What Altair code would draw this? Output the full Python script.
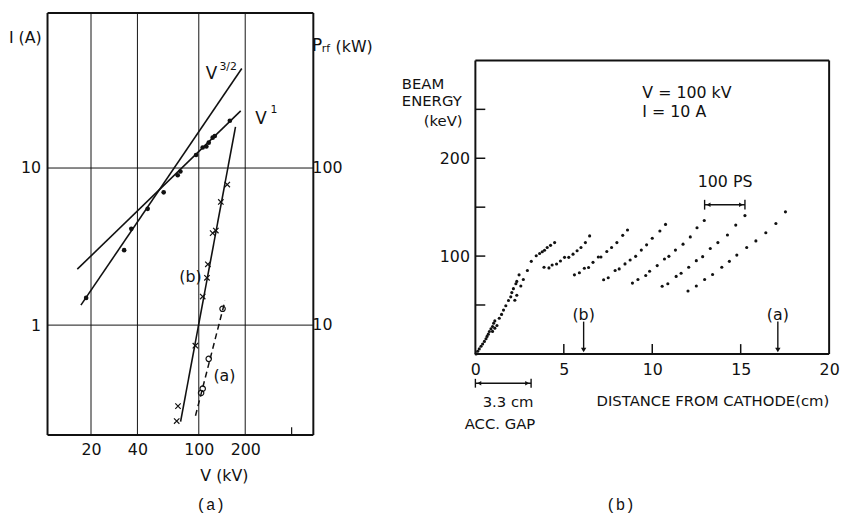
import altair as alt
import pandas as pd

FONT = "DejaVu Sans"
MONO = "Liberation Mono"
INK = "#111111"

# ===================== panel (a): I (A) and P_rf (kW) versus V (kV) =====================
V_DOMAIN = [10.45, 553]
I_DOMAIN = [0.2, 97]
V_TICKS = [20, 40, 100, 200]
V_MINOR_TICKS = [400]
I_TICKS = [1, 10]
P_TICK_LABELS = ["10", "100"]          # right-hand P_rf scale, at I = 1 and I = 10

V_DOT = [18.6, 32.8, 36.5, 46.6, 59.2, 73, 76, 96, 106, 112, 116, 123, 127, 159]
I_DOT = [1.49, 3.0, 4.1, 5.5, 7.0, 9.0, 9.5, 12.1, 13.5, 13.7, 14.5, 15.6, 16.0, 20.0]
V_CROSS = [71.9, 73.3, 95, 106, 113, 114.5, 123, 129, 139, 153]
I_CROSS = [0.245, 0.305, 0.74, 1.52, 2.0, 2.44, 3.85, 4.0, 6.08, 7.85]
V_CIRC = [103.5, 106, 116, 142.6]
I_CIRC = [0.37, 0.394, 0.61, 1.27]

FIT_NAME = ["V32", "V1", "b", "a"]
FIT_V = [[17.2, 190], [16.3, 187], [76.2, 173], [95.2, 148]]
FIT_I = [[1.34, 43], [2.27, 23.1], [0.243, 18.3], [0.265, 1.43]]
FIT_DASHED = [False, False, False, True]

# ===================== panel (b): beam energy versus distance =====================
X_DOMAIN = [0, 20]
E_DOMAIN = [0, 348.5]
E_FRAME_TOP = 300
X_LABELS = [0, 5, 10, 15, 20]
E_LABELS = [100, 200]
X_INNER_TICKS = [5, 10, 15]
E_INNER_TICKS = [50, 100, 150, 200, 250]

STRAND_X = [
    [0.04, 0.13, 0.22, 0.32, 0.41, 0.51, 0.60, 0.66, 0.73, 0.79, 0.88, 0.97, 1.03, 1.10,
     0.97, 1.10, 1.22, 1.35, 1.48, 1.59, 1.72, 1.87, 2.00, 2.06, 2.15, 2.29, 2.34, 2.47,
     2.23, 2.34, 2.57, 2.71, 2.94, 3.16, 3.44, 3.63, 3.78, 3.91, 4.06, 4.25, 4.48],
    [3.88, 4.16, 4.34, 4.59, 4.81, 5.04, 5.28, 5.52, 5.75, 5.97, 6.22, 6.46],
    [5.60, 5.88, 6.16, 6.40, 6.65, 6.95, 7.10, 7.43, 7.70, 8.00, 8.33, 8.60],
    [7.25, 7.51, 7.90, 8.13, 8.46, 8.75, 9.06, 9.38, 9.68, 10.0, 10.43, 10.75],
    [8.88, 9.19, 9.63, 9.85, 10.28, 10.69, 10.94, 11.31, 11.74, 12.15, 12.53, 12.94],
    [10.56, 10.88, 11.35, 11.63, 12.06, 12.49, 12.85, 13.28, 13.71, 14.25, 14.72, 15.24],
    [12.02, 12.49, 12.96, 13.41, 13.93, 14.36, 14.78, 15.34, 15.86, 16.42, 16.99, 17.53],
]
STRAND_E = [
    [0, 2.7, 5.1, 7.8, 10.1, 12.8, 15.5, 17.9, 20.2, 22.9, 25.6, 28, 31.3, 33.7,
     23, 26.3, 29, 36.4, 40.4, 44.8, 49.2, 54.6, 58.3, 62.7, 66.7, 71.7, 74.1, 80.8,
     54.9, 60, 69.4, 76.1, 85.2, 94.6, 100.4, 102.7, 104.4, 106, 108.8, 111, 113.8],
    [88.6, 87.9, 90.9, 91.9, 95, 98.7, 98.7, 102, 105.5, 108.8, 113.8, 120.6],
    [80.8, 83, 87.6, 88.3, 93.6, 99, 99, 104.7, 108.8, 113.8, 121.2, 126.6],
    [75.8, 77.8, 85.2, 86.9, 92, 96, 99.7, 106.1, 111.5, 118.2, 125.6, 132.4],
    [72.4, 76.1, 80.2, 84.5, 90.3, 97, 99.7, 106.1, 112.2, 119.6, 129, 136.4],
    [69.1, 71.7, 79.2, 82.5, 88.6, 95.3, 99.4, 107.8, 113.8, 121.6, 131.7, 141.4],
    [64.3, 69.4, 76.1, 81.2, 88.6, 94.6, 101, 108.8, 115.5, 123.9, 133.3, 145.2],
]
ARROW_X = [6.12, 17.1]
ARROW_LABEL = ["(b)", "(a)"]
PS_BAR = [12.96, 15.24]      # 100 ps time marker
GAP_BAR = [0, 3.15]          # 3.3 cm accelerating gap

# ---------------------------------------------------------------------------------------
axis_xa = alt.Axis(values=V_TICKS, format="d", labelFont=FONT, labelFontSize=16, labelColor=INK,
                   labelPadding=7, labelFlush=False, labelOverlap=False, ticks=False, domain=False,
                   grid=False, title=None)
axis_ya = alt.Axis(values=I_TICKS, format="d", labelFont=FONT, labelFontSize=16, labelColor=INK,
                   labelPadding=7, labelFlush=False, labelOverlap=False, ticks=False, domain=False,
                   grid=False, title=None)


def xA(f):
    return alt.X(f, type="quantitative", scale=alt.Scale(type="log", domain=V_DOMAIN), axis=axis_xa)


def yA(f):
    return alt.Y(f, type="quantitative", scale=alt.Scale(type="log", domain=I_DOMAIN), axis=axis_ya)


grid_v = alt.Chart(pd.DataFrame({"v": V_TICKS, "i": I_DOMAIN[0], "i2": I_DOMAIN[1]})).mark_rule(
    color=INK, strokeWidth=1).encode(x=xA("v"), y=yA("i"), y2="i2")
grid_h = alt.Chart(pd.DataFrame({"i": I_TICKS, "v": V_DOMAIN[0], "v2": V_DOMAIN[1]})).mark_rule(
    color=INK, strokeWidth=1).encode(y=yA("i"), x=xA("v"), x2="v2")
minor_v = alt.Chart(pd.DataFrame({"v": V_MINOR_TICKS, "i": I_DOMAIN[0],
                                  "i2": I_DOMAIN[0] * 1.12})).mark_rule(
    color=INK, strokeWidth=1.2).encode(x=xA("v"), y=yA("i"), y2="i2")
v0, v1 = V_DOMAIN
i0, i1 = I_DOMAIN
frame_a = alt.Chart(pd.DataFrame({
    "v": [v0, v0, v0, v1], "v2": [v1, v1, v0, v1],
    "i": [i0, i1, i0, i0], "i2": [i0, i1, i1, i1]})).mark_rule(color=INK, strokeWidth=2).encode(
    x=xA("v"), x2="v2", y=yA("i"), y2="i2")

fit_rows = []
for n, vs, is_, d in zip(FIT_NAME, FIT_V, FIT_I, FIT_DASHED):
    for k, (vv, ii) in enumerate(zip(vs, is_)):
        fit_rows.append({"name": n, "v": vv, "i": ii, "k": k, "dashed": d})
fit_df = pd.DataFrame(fit_rows)
fit_solid = alt.Chart(fit_df[~fit_df.dashed]).mark_line(color=INK, strokeWidth=1.6).encode(
    x=xA("v"), y=yA("i"), detail="name:N", order="k:Q")
fit_dash = alt.Chart(fit_df[fit_df.dashed]).mark_line(color=INK, strokeWidth=1.5,
                                                       strokeDash=[6, 4]).encode(
    x=xA("v"), y=yA("i"), detail="name:N", order="k:Q")

dots = alt.Chart(pd.DataFrame({"v": V_DOT, "i": I_DOT})).mark_circle(
    color=INK, size=22, opacity=1).encode(x=xA("v"), y=yA("i"))
crosses = alt.Chart(pd.DataFrame({"v": V_CROSS, "i": I_CROSS})).mark_point(
    shape="M -1 -1 L 1 1 M -1 1 L 1 -1", size=30, strokeWidth=1.2, color=INK, filled=False,
    opacity=1).encode(x=xA("v"), y=yA("i"))
circles = alt.Chart(pd.DataFrame({"v": V_CIRC, "i": I_CIRC})).mark_point(
    shape="circle", size=30, strokeWidth=1.2, color=INK, filled=False, opacity=1).encode(
    x=xA("v"), y=yA("i"))


def text_a(texts, vs, is_, size, align="center", font=FONT):
    return alt.Chart(pd.DataFrame({"t": texts, "v": vs, "i": is_})).mark_text(
        font=font, fontSize=size, color=INK, align=align, baseline="middle").encode(
        x=xA("v"), y=yA("i"), text="t:N")


txt_ititle = text_a(["I (A)"], [5.87], [67.6], 16, align="left")
txt_vtitle = text_a(["V (kV)"], [146.6], [0.109], 16)
txt_big = text_a(["V", "V"], [121, 253], [39.5, 20.6], 17)
txt_sup = text_a(["3/2", "1"], [155, 307], [44.2, 23.3], 11)
txt_curve = text_a(["(b)", "(a)"], [88.3, 146.6], [2.03, 0.471], 16)
txt_p = text_a(["P"], [542], [59.6], 17, align="left")
txt_rf = text_a(["rf"], [628], [56.9], 11, align="left")
txt_kw = text_a(["(kW)"], [771], [59.0], 16, align="left")
txt_right = text_a(P_TICK_LABELS, [545, 545], I_TICKS, 16, align="left")
txt_cap_a = text_a(["(a)"], [119.5], [0.0717], 16, font=MONO)

panel_a = alt.layer(grid_v, grid_h, minor_v, frame_a, fit_solid, fit_dash, dots, crosses, circles,
                    txt_ititle, txt_vtitle, txt_big, txt_sup, txt_curve, txt_p, txt_rf, txt_kw,
                    txt_right, txt_cap_a).properties(width=269, height=427)

# ---------------------------------------------------------------------------------------
axis_xb = alt.Axis(values=X_LABELS, format="d", labelFont=FONT, labelFontSize=16, labelColor=INK,
                   labelPadding=8, labelFlush=False, labelOverlap=False, ticks=False, domain=False,
                   grid=False, title=None)
axis_yb = alt.Axis(values=E_LABELS, format="d", labelFont=FONT, labelFontSize=16, labelColor=INK,
                   labelPadding=6, labelFlush=False, labelOverlap=False, ticks=False, domain=False,
                   grid=False, title=None)


def xB(f):
    return alt.X(f, type="quantitative", scale=alt.Scale(domain=X_DOMAIN, nice=False), axis=axis_xb)


def yB(f):
    return alt.Y(f, type="quantitative", scale=alt.Scale(domain=E_DOMAIN, nice=False), axis=axis_yb)


x0, x1 = X_DOMAIN
frame_b = alt.Chart(pd.DataFrame({
    "x": [x0, x0, x0, x1], "x2": [x1, x1, x0, x1],
    "e": [0, E_FRAME_TOP, 0, 0], "e2": [0, E_FRAME_TOP, E_FRAME_TOP, E_FRAME_TOP]})).mark_rule(
    color=INK, strokeWidth=2).encode(x=xB("x"), x2="x2", y=yB("e"), y2="e2")

tick_len_x = 0.56   # cm  (about 10 px)
tick_len_e = 10.0   # keV (about 10 px)
ticks_e = alt.Chart(pd.DataFrame({"e": E_INNER_TICKS, "x": 0, "x2": tick_len_x})).mark_rule(
    color=INK, strokeWidth=1.5).encode(x=xB("x"), x2="x2", y=yB("e"))
ticks_x = alt.Chart(pd.DataFrame({"x": X_INNER_TICKS, "e": 0, "e2": tick_len_e})).mark_rule(
    color=INK, strokeWidth=1.5).encode(x=xB("x"), y=yB("e"), y2="e2")

strand_rows = []
for s, (xs, es) in enumerate(zip(STRAND_X, STRAND_E)):
    for xx, ee in zip(xs, es):
        strand_rows.append({"s": s, "x": xx, "e": ee})
strands = alt.Chart(pd.DataFrame(strand_rows)).mark_circle(color=INK, size=10, opacity=1).encode(
    x=xB("x"), y=yB("e"))

arrow_shaft = alt.Chart(pd.DataFrame({"x": ARROW_X, "e": 4, "e2": 33})).mark_rule(
    color=INK, strokeWidth=1.4).encode(x=xB("x"), y=yB("e"), y2="e2")
arrow_head = alt.Chart(pd.DataFrame({"x": ARROW_X, "e": 4})).mark_point(
    shape="triangle-down", filled=True, size=30, color=INK, opacity=1).encode(x=xB("x"), y=yB("e"))

ps_e = 152.5
ps_bar = alt.Chart(pd.DataFrame({"x": [PS_BAR[0]], "x2": [PS_BAR[1]], "e": [ps_e]})).mark_rule(
    color=INK, strokeWidth=1.4).encode(x=xB("x"), x2="x2", y=yB("e"))
ps_caps = alt.Chart(pd.DataFrame({"x": PS_BAR, "e": ps_e - 5, "e2": ps_e + 5})).mark_rule(
    color=INK, strokeWidth=1.4).encode(x=xB("x"), y=yB("e"), y2="e2")
ps_heads = alt.Chart(pd.DataFrame({"x": [PS_BAR[0] + 0.22, PS_BAR[1] - 0.22], "e": ps_e,
                                   "d": ["L", "R"]})).mark_point(
    filled=True, size=22, color=INK, opacity=1).encode(
    x=xB("x"), y=yB("e"),
    shape=alt.Shape("d:N", scale=alt.Scale(domain=["L", "R"],
                                           range=["triangle-left", "triangle-right"]), legend=None))

gap_e = -30
gap_bar = alt.Chart(pd.DataFrame({"x": [GAP_BAR[0]], "x2": [GAP_BAR[1]], "e": [gap_e]})).mark_rule(
    color=INK, strokeWidth=1.4).encode(x=xB("x"), x2="x2", y=yB("e"))
gap_caps = alt.Chart(pd.DataFrame({"x": GAP_BAR, "e": gap_e - 4.5, "e2": gap_e + 4.5})).mark_rule(
    color=INK, strokeWidth=1.4).encode(x=xB("x"), y=yB("e"), y2="e2")
gap_heads = alt.Chart(pd.DataFrame({"x": [GAP_BAR[0] + 0.22, GAP_BAR[1] - 0.22], "e": gap_e,
                                    "d": ["L", "R"]})).mark_point(
    filled=True, size=22, color=INK, opacity=1).encode(
    x=xB("x"), y=yB("e"),
    shape=alt.Shape("d:N", scale=alt.Scale(domain=["L", "R"],
                                           range=["triangle-left", "triangle-right"]), legend=None))


def text_b(texts, xs, es, size, align="center", font=FONT):
    return alt.Chart(pd.DataFrame({"t": texts, "x": xs, "e": es})).mark_text(
        font=font, fontSize=size, color=INK, align=align, baseline="middle").encode(
        x=xB("x"), y=yB("e"), text="t:N")


txt_ytitle = text_b(["BEAM", "ENERGY"], [-4.16, -4.16], [276, 258], 15, align="left")
txt_ytitle2 = text_b(["(keV)"], [-2.92], [238.5], 15, align="left")
txt_xtitle = text_b(["DISTANCE  FROM  CATHODE(cm)"], [13.43], [-47.8], 15)
txt_cond = text_b(["V = 100 kV", "I = 10 A"], [9.44, 9.44], [266.8, 246.9], 16, align="left")
txt_ps = text_b(["100 PS"], [14.12], [176], 16)
txt_arrows = text_b(ARROW_LABEL, ARROW_X, [40, 40], 16)
txt_gap = text_b(["3.3 cm", "ACC. GAP"], [1.85, 1.39], [-48.8, -72], 15)
txt_cap_b = text_b(["(b)"], [8.2], [-154.8], 16, font=MONO)

panel_b = alt.layer(frame_b, ticks_e, ticks_x, strands, arrow_shaft, arrow_head, ps_bar, ps_caps,
                    ps_heads, gap_bar, gap_caps, gap_heads, txt_ytitle, txt_ytitle2, txt_xtitle,
                    txt_cond, txt_ps, txt_arrows, txt_gap, txt_cap_b).properties(width=358, height=345)

chart = alt.hconcat(panel_a, panel_b, spacing=28).properties(
    padding=0, background="white").configure_view(stroke="transparent")

chart.save("out.html", embed_options={"renderer": "svg", "actions": False})
